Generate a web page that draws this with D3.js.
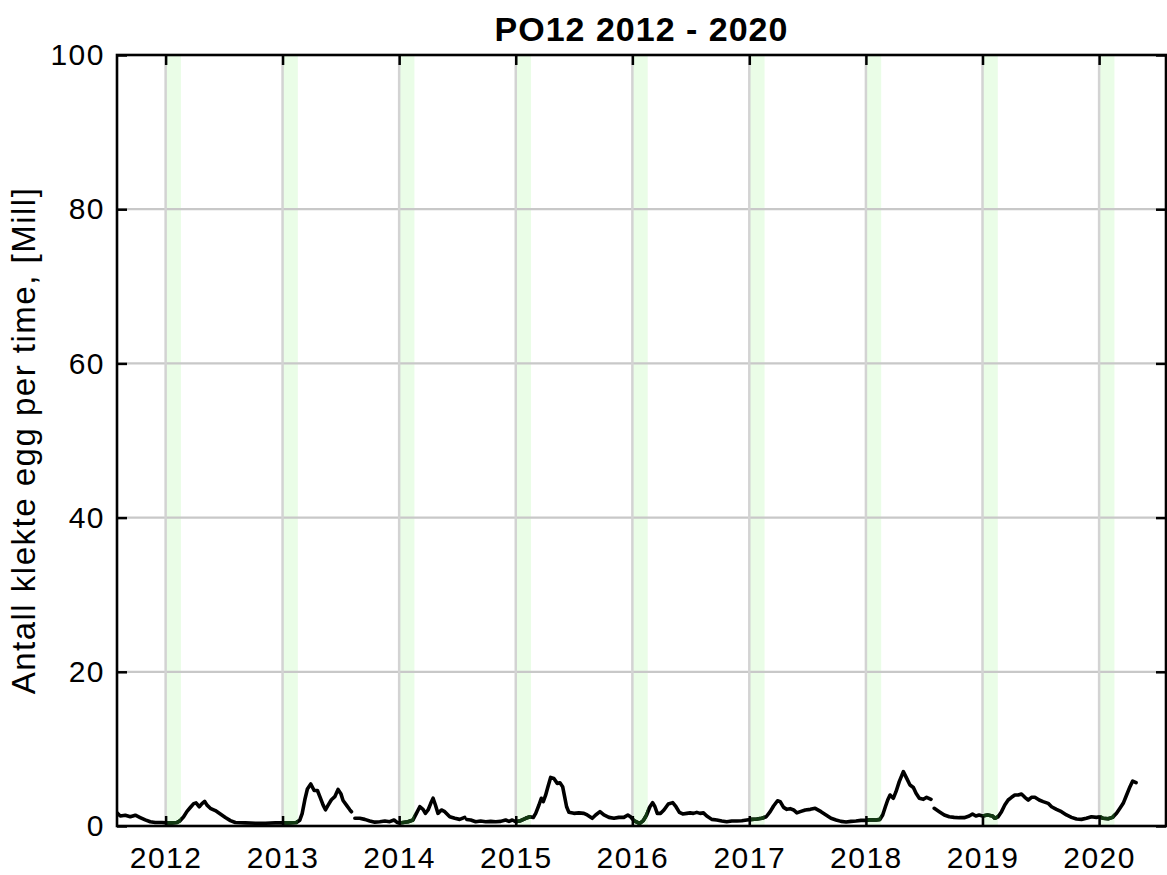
<!DOCTYPE html>
<html>
<head>
<meta charset="utf-8">
<script src="https://cdn.jsdelivr.net/npm/d3@7"></script>
<style>
  html, body { margin: 0; padding: 0; background: #fff; }
  svg { display: block; }
  text { font-family: "Liberation Sans", Arial, Helvetica, sans-serif; fill: #000; }
</style>
</head>
<body>
<svg id="chart" width="1167" height="875"></svg>
<script>
// ---- data (decimal years, values in millions) ----
const titleText = "PO12 2012 - 2020";
const yLabel = "Antall klekte egg per time, [Mill]";
const xDomainYears = [2011.583, 2020.572];
const yTicks = [0, 20, 40, 60, 80, 100];
const yearTicks = [2012, 2013, 2014, 2015, 2016, 2017, 2018, 2019, 2020];
const bandYears = [2012, 2013, 2014, 2015, 2016, 2017, 2018, 2019, 2020];
const bandSpan = [0, 0.131];   // fraction of year: 1 Jan to mid Feb

const time = [
  2011.583, 2011.611, 2011.654, 2011.697, 2011.740, 2011.782, 2011.825, 2011.868, 2011.911, 2011.968,
  2012.011, 2012.054, 2012.097, 2012.125, 2012.154, 2012.183, 2012.211, 2012.240, 2012.260, 2012.288,
  2012.311, 2012.334, 2012.354, 2012.382, 2012.425, 2012.468, 2012.511, 2012.554, 2012.596, 2012.682,
  2012.768, 2012.853, 2012.939, 2012.997,
  2013.048, 2013.119, 2013.148, 2013.168, 2013.191, 2013.213, 2013.242, 2013.271, 2013.299, 2013.320,
  2013.348, 2013.368, 2013.391, 2013.419, 2013.448, 2013.476, 2013.500, 2013.519, 2013.548, 2013.577,
  2013.591, 2013.605,
  2013.620, 2013.662, 2013.705, 2013.748, 2013.791, 2013.834, 2013.877, 2013.919, 2013.956, 2013.985,
  2014.019, 2014.076, 2014.119, 2014.148, 2014.177, 2014.205, 2014.225, 2014.248, 2014.271, 2014.291,
  2014.311, 2014.333, 2014.362, 2014.391, 2014.434, 2014.477, 2014.519, 2014.562, 2014.570,
  2014.579, 2014.614, 2014.656, 2014.699, 2014.742, 2014.785, 2014.828, 2014.870, 2014.913, 2014.942,
  2014.970, 2014.999, 2015.042, 2015.085, 2015.122, 2015.150, 2015.171, 2015.199, 2015.219, 2015.236,
  2015.256, 2015.276, 2015.299, 2015.327, 2015.356, 2015.379, 2015.402, 2015.419, 2015.436, 2015.456,
  2015.499, 2015.541, 2015.584, 2015.613, 2015.656, 2015.685, 2015.722, 2015.756, 2015.799, 2015.842,
  2015.884, 2015.927, 2015.961, 2015.984, 2016.013, 2016.047,
  2016.064, 2016.093, 2016.122, 2016.150, 2016.173, 2016.193, 2016.213, 2016.242, 2016.270, 2016.307,
  2016.345, 2016.373, 2016.402, 2016.431, 2016.465, 2016.493, 2016.522, 2016.551, 2016.579, 2016.608,
  2016.636, 2016.679, 2016.722, 2016.765, 2016.807, 2016.850, 2016.893, 2016.936, 2016.979, 2017.022,
  2017.065, 2017.108, 2017.145, 2017.179, 2017.208, 2017.242, 2017.265, 2017.294, 2017.322, 2017.351,
  2017.380, 2017.408, 2017.437, 2017.480, 2017.523, 2017.565,
  2017.615, 2017.658, 2017.701, 2017.744, 2017.787, 2017.830, 2017.872, 2017.915, 2017.958, 2018.001,
  2018.044, 2018.087, 2018.121, 2018.144, 2018.167, 2018.187, 2018.207, 2018.235, 2018.258, 2018.286,
  2018.321, 2018.350, 2018.378, 2018.407, 2018.430, 2018.458, 2018.493, 2018.521, 2018.558, 2018.572,
  2018.586, 2018.629, 2018.672, 2018.715, 2018.757, 2018.800, 2018.843, 2018.886, 2018.914, 2018.943,
  2018.971, 2019.000, 2019.043, 2019.086,
  2019.105, 2019.134, 2019.163, 2019.191, 2019.220, 2019.249, 2019.277, 2019.306, 2019.334, 2019.363,
  2019.392, 2019.420, 2019.449, 2019.486, 2019.520, 2019.563, 2019.592, 2019.634, 2019.677, 2019.720,
  2019.763, 2019.806, 2019.849, 2019.891, 2019.934, 2019.977, 2020.006, 2020.034, 2020.077, 2020.115,
  2020.149, 2020.178, 2020.206, 2020.235, 2020.264, 2020.287, 2020.316
];
const eggs = [
  1.7, 1.3, 1.4, 1.2, 1.4, 1.1, 0.8, 0.55, 0.45, 0.45,
  0.4, 0.4, 0.45, 0.7, 1.2, 1.9, 2.4, 2.9, 3.0, 2.5,
  2.9, 3.2, 2.7, 2.3, 2.0, 1.55, 1.1, 0.7, 0.45, 0.4,
  0.35, 0.35, 0.4, 0.4,
  0.4, 0.45, 0.75, 1.6, 3.4, 4.8, 5.45, 4.6, 4.6, 3.8,
  2.7, 2.1, 2.7, 3.4, 3.8, 4.75, 4.2, 3.3, 2.7, 2.1,
  1.85, null,
  1.0, 1.0, 0.86, 0.65, 0.5, 0.56, 0.65, 0.56, 0.78, 0.43,
  0.43, 0.56, 0.78, 1.64, 2.5, 2.16, 1.64, 2.08, 2.94, 3.6,
  2.72, 1.64, 2.08, 1.86, 1.2, 1.0, 0.86, 1.12, null,
  0.85, 0.78, 0.56, 0.65, 0.56, 0.6, 0.56, 0.6, 0.78, 0.6,
  0.78, 0.56, 0.69, 1.0, 1.2, 1.1, 1.64, 2.72, 3.59, 3.16,
  4.0, 5.1, 6.3, 6.17, 5.53, 5.6, 5.1, 3.8, 2.5, 1.77,
  1.64, 1.7, 1.64, 1.43, 1.0, 1.43, 1.86, 1.43, 1.12, 1.0,
  1.12, 1.12, 1.43, 1.2, 0.69, 0.43,
  0.35, 0.69, 1.43, 2.5, 3.03, 2.5, 1.64, 1.64, 2.08, 2.85,
  3.03, 2.5, 1.77, 1.56, 1.64, 1.7, 1.64, 1.77, 1.64, 1.7,
  1.3, 0.86, 0.78, 0.65, 0.56, 0.65, 0.65, 0.69, 0.78, 0.86,
  0.9, 1.0, 1.2, 1.86, 2.59, 3.28, 3.16, 2.42, 2.16, 2.25,
  2.08, 1.7, 1.86, 2.08, 2.16, 2.29,
  1.86, 1.43, 1.0, 0.78, 0.6, 0.52, 0.6, 0.65, 0.73, 0.73,
  0.82, 0.78, 0.86, 1.43, 2.5, 3.37, 4.02, 3.59, 4.45, 5.75,
  7.05, 6.18, 5.32, 5.0, 4.24, 3.59, 3.46, 3.72, 3.46, null,
  2.29, 1.86, 1.43, 1.2, 1.12, 1.08, 1.08, 1.3, 1.56, 1.3,
  1.43, 1.3, 1.43, 1.3,
  1.0, 1.2, 1.86, 2.72, 3.37, 3.72, 4.02, 4.02, 4.15, 3.72,
  3.37, 3.72, 3.72, 3.37, 3.16, 2.94, 2.5, 2.16, 1.86, 1.43,
  1.12, 0.9, 0.86, 1.0, 1.2, 1.12, 1.2, 1.0, 0.95, 1.12,
  1.64, 2.29, 2.94, 4.02, 5.1, 5.83, 5.62
];

// ---- helpers ----
function yearToDate(t) {
  const y = Math.floor(t);
  const s = Date.UTC(y, 0, 1), e = Date.UTC(y + 1, 0, 1);
  return new Date(s + (t - y) * (e - s));
}
const series = time.map((t, i) => ({ date: yearToDate(t), v: eggs[i] }));

// ---- layout ----
const W = 1167, H = 875;
const m = { left: 117, right: 1, top: 55, bottom: 49 };
const svg = d3.select("#chart");

const x = d3.scaleUtc()
  .domain(xDomainYears.map(yearToDate))
  .range([m.left, W - m.right]);
const y = d3.scaleLinear()
  .domain([0, 100])
  .range([H - m.bottom, m.top]);

const plotTop = y(100), plotBot = y(0), plotL = x.range()[0], plotR = x.range()[1];

svg.append("defs").append("clipPath").attr("id", "plotclip")
  .append("rect").attr("x", plotL).attr("y", plotTop)
  .attr("width", plotR - plotL).attr("height", plotBot - plotTop);

// green bands
const bands = bandYears.map(yr => ({ a: yearToDate(yr + bandSpan[0]), b: yearToDate(yr + bandSpan[1]) }));
svg.append("g").attr("clip-path", "url(#plotclip)")
  .selectAll("rect").data(bands).join("rect")
  .attr("x", d => x(d.a)).attr("width", d => x(d.b) - x(d.a))
  .attr("y", plotTop).attr("height", plotBot - plotTop)
  .attr("fill", "#eafde7");

// band clip for dark-green line overlay
const bandClip = svg.select("defs").append("clipPath").attr("id", "bandclip");
bandClip.selectAll("rect").data(bands).join("rect")
  .attr("x", d => x(d.a)).attr("width", d => x(d.b) - x(d.a))
  .attr("y", plotTop).attr("height", plotBot - plotTop);

// grid lines
const grid = svg.append("g");
grid.selectAll("line.h").data(yTicks.filter(v => v > 0 && v < 100)).join("line")
  .attr("class", "h")
  .attr("x1", plotL).attr("x2", plotR)
  .attr("y1", d => y(d)).attr("y2", d => y(d))
  .attr("stroke", "#c8c8c8").attr("stroke-width", 2.2);
grid.selectAll("line.v").data(yearTicks).join("line")
  .attr("class", "v")
  .attr("x1", d => x(yearToDate(d))).attr("x2", d => x(yearToDate(d)))
  .attr("y1", plotTop).attr("y2", plotBot)
  .attr("stroke", "#d3d3d3").attr("stroke-width", 2.5);

// data line
const line = d3.line()
  .defined(d => d.v !== null)
  .x(d => x(d.date)).y(d => y(d.v))
  .curve(d3.curveLinear);
const lg = svg.append("g").attr("clip-path", "url(#plotclip)");
lg.append("path").datum(series).attr("d", line)
  .attr("fill", "none").attr("stroke", "#000").attr("stroke-width", 3.6)
  .attr("stroke-linejoin", "round").attr("stroke-linecap", "round");
lg.append("g").attr("clip-path", "url(#bandclip)")
  .append("path").datum(series).attr("d", line)
  .attr("fill", "none").attr("stroke", "#123a12").attr("stroke-width", 3.6)
  .attr("stroke-linejoin", "round").attr("stroke-linecap", "round");

// axes (ticks inward, mirrored)
const tickLen = 10;
const tickFont = 30;
const axB = svg.append("g").attr("transform", `translate(0,${plotBot})`)
  .call(d3.axisBottom(x).tickValues(yearTicks.map(yearToDate)).tickSizeInner(-tickLen).tickSizeOuter(0)
    .tickPadding(21).tickFormat(d3.utcFormat("%Y")));
const axT = svg.append("g").attr("transform", `translate(0,${plotTop})`)
  .call(d3.axisTop(x).tickValues(yearTicks.map(yearToDate)).tickSizeInner(-tickLen).tickSizeOuter(0).tickFormat(""));
const axL = svg.append("g").attr("transform", `translate(${plotL},0)`)
  .call(d3.axisLeft(y).tickValues(yTicks).tickSizeInner(-tickLen).tickSizeOuter(0).tickPadding(12));
const axR = svg.append("g").attr("transform", `translate(${plotR},0)`)
  .call(d3.axisRight(y).tickValues(yTicks).tickSizeInner(-tickLen).tickSizeOuter(0).tickFormat(""));
[axB, axT, axL, axR].forEach(a => {
  a.select(".domain").remove();
  a.selectAll(".tick line").attr("stroke", "#000").attr("stroke-width", 2.5);
  a.selectAll(".tick text").attr("font-size", tickFont).attr("letter-spacing", "1.5px")
    .attr("font-family", "Liberation Sans, Arial, sans-serif").attr("fill", "#000");
});

// box
svg.append("rect").attr("x", plotL).attr("y", plotTop)
  .attr("width", plotR - plotL).attr("height", plotBot - plotTop)
  .attr("fill", "none").attr("stroke", "#000").attr("stroke-width", 2.6);

// title
svg.append("text").attr("x", (plotL + plotR) / 2).attr("y", 41)
  .attr("text-anchor", "middle").attr("font-weight", "bold")
  .attr("font-size", 34).attr("letter-spacing", "1px").text(titleText);

// y label
svg.append("text")
  .attr("transform", `translate(35,${(plotTop + plotBot) / 2}) rotate(-90)`)
  .attr("text-anchor", "middle").attr("font-size", 33).attr("letter-spacing", "1.5px")
  .text(yLabel);
</script>
</body>
</html>
